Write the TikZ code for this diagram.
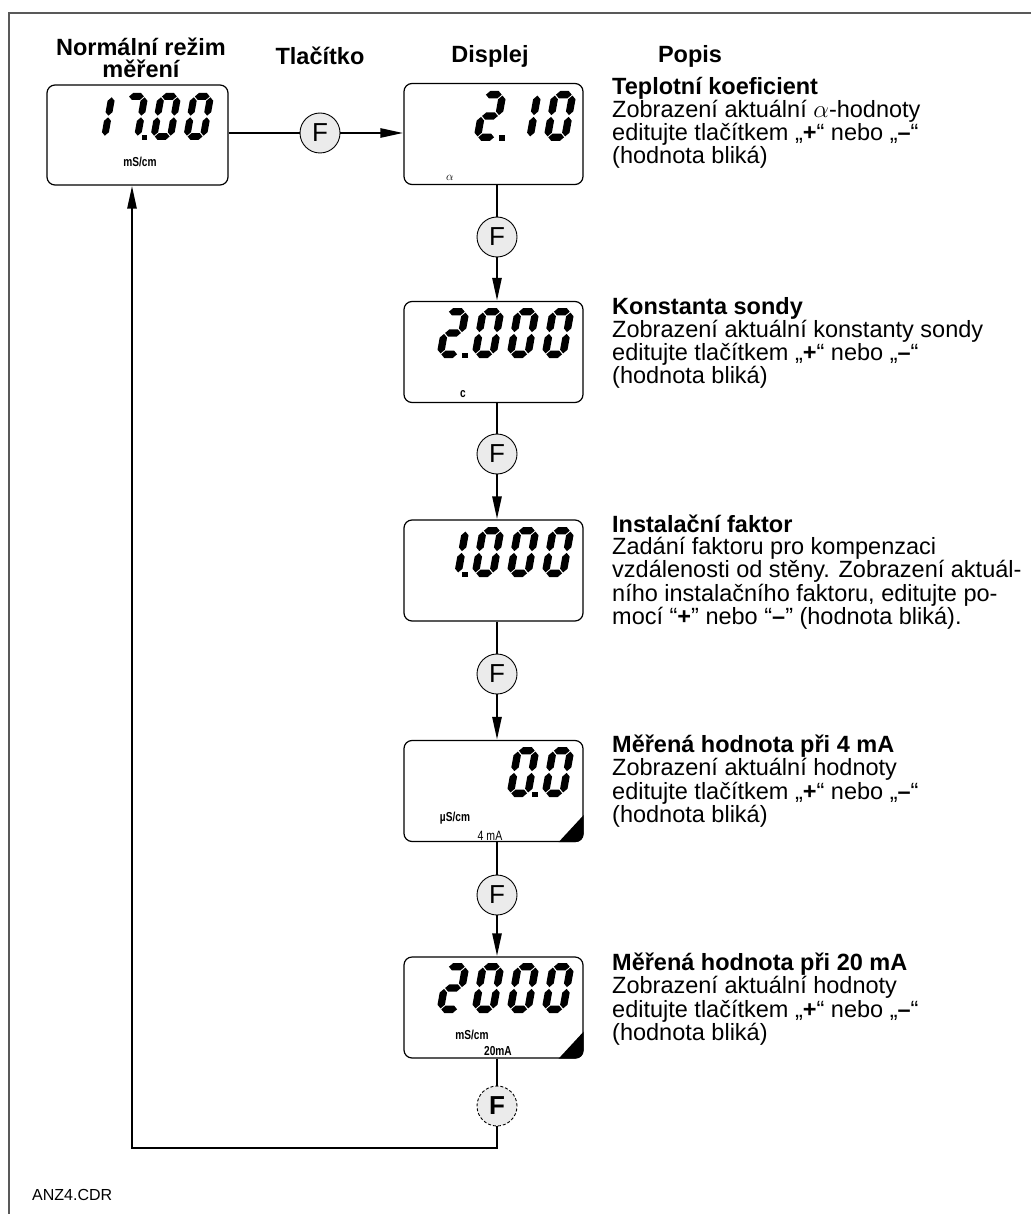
\documentclass[tikz,border=0pt]{standalone}
\usepackage{fontspec}
\setmainfont{Liberation Sans}
\newfontfamily\narrowfont[FakeStretch=0.78]{Liberation Sans}
\usetikzlibrary{arrows.meta}

% seven-segment geometry (local units, origin at bottom left of a digit slot)
\def\sW{25}
\def\sH{50}
\def\sT{7.4}
\def\sG{0.9}
% horizontal bar between the vertical bar axes, centred at height #2
\newcommand\hseg[2]{\fill ({#1+\sT/2+\sG},{#2}) -- ({#1+\sT+\sG},{#2+\sT/2}) -- ({#1+\sW-\sT-\sG},{#2+\sT/2}) -- ({#1+\sW-\sT/2-\sG},{#2}) -- ({#1+\sW-\sT-\sG},{#2-\sT/2}) -- ({#1+\sT+\sG},{#2-\sT/2}) -- cycle;}
% vertical bar on axis #2 from height #3 to #4
\newcommand\vseg[4]{\fill ({#1+#2},{#3+\sG}) -- ({#1+#2+\sT/2},{#3+\sT/2+\sG}) -- ({#1+#2+\sT/2},{#4-\sT/2-\sG}) -- ({#1+#2},{#4-\sG}) -- ({#1+#2-\sT/2},{#4-\sT/2-\sG}) -- ({#1+#2-\sT/2},{#3+\sT/2+\sG}) -- cycle;}
\newcommand\segA[1]{\hseg{#1}{\sH-\sT/2}}
\newcommand\segG[1]{\hseg{#1}{\sH/2}}
\newcommand\segD[1]{\hseg{#1}{\sT/2}}
\newcommand\segF[1]{\vseg{#1}{\sT/2}{\sH/2}{\sH-\sT/2}}
\newcommand\segB[1]{\vseg{#1}{\sW-\sT/2}{\sH/2}{\sH-\sT/2}}
\newcommand\segE[1]{\vseg{#1}{\sT/2}{\sT/2}{\sH/2}}
\newcommand\segC[1]{\vseg{#1}{\sW-\sT/2}{\sT/2}{\sH/2}}
\newcommand\Dzero[1]{\segA{#1}\segB{#1}\segC{#1}\segD{#1}\segE{#1}\segF{#1}}
\newcommand\Done[1]{\segB{#1}\segC{#1}}
\newcommand\Dtwo[1]{\segA{#1}\segB{#1}\segG{#1}\segE{#1}\segD{#1}}
\newcommand\Dseven[1]{\segA{#1}\segB{#1}\segC{#1}}
\newcommand\Ddot[1]{\fill ({#1+\sW+1.2},0) rectangle ({#1+\sW+6.2},5.5);}
% #1 bottom left of first slot, #2 scale, #3 digits
\newcommand\lcd[3]{\begin{scope}[shift={#1},x={({#2*1pt},0pt)},y={({0.18*#2*1pt},{#2*1pt})}]#3\end{scope}}

\tikzset{
  hdr/.style={font=\bfseries\fontsize{23.5}{22}\selectfont, inner sep=0pt, align=center},
  desc/.style={font=\fontsize{23.5}{22}\selectfont, inner sep=0pt, align=left, anchor=north west},
  lcdbox/.style={draw, line width=1.2pt, rounded corners=8pt, minimum width=179pt, minimum height=101pt, inner sep=0pt},
  fkey/.style={circle, draw, line width=0.9pt, fill=black!8, minimum size=40pt, inner sep=0pt, font=\fontsize{26}{26}\selectfont},
  conn/.style={line width=2.6pt},
  arr/.style={conn, -{Triangle[length=23pt,width=9pt]}},
  unit/.style={font=\narrowfont\bfseries\fontsize{13}{13}\selectfont, inner sep=0pt},
}

\begin{document}
\begin{tikzpicture}[x=1pt,y=-1pt]
\useasboundingbox (0,0) rectangle (1031,1214);

% frame
\draw[black!65, line width=1.5pt] (9,1214) -- (9,13) -- (1031,13);

% column headings
\node[hdr] (hmode) at (141,58) {Normální režim\\měření};
\node[hdr] (hkey) at (320,56) {Tlačítko};
\node[hdr] (hdisp) at (490,56) {Displej};
\node[hdr] (hdesc) at (690,56) {Popis};

% displays
\node[lcdbox, minimum width=181pt, minimum height=100pt] (d1) at (137.5,135) {};
\node[lcdbox] (d2) at (493.5,134) {};
\node[lcdbox] (d3) at (493.5,352) {};
\node[lcdbox] (d4) at (493.5,570.5) {};
\node[lcdbox] (d5) at (493.5,791) {};
\node[lcdbox] (d6) at (493.5,1007.5) {};

% digits
\lcd{(84,140)}{0.94}{\Done{0}\Dseven{35}\Ddot{35}\Dzero{70}\Dzero{105}}
\lcd{(473,141)}{1}{\Dtwo{0}\Ddot{0}\Done{35}\Dzero{70}}
\lcd{(436,358)}{1}{\Dtwo{0}\Ddot{0}\Dzero{35}\Dzero{70}\Dzero{105}}
\lcd{(436,577)}{1}{\Done{0}\Ddot{0}\Dzero{35}\Dzero{70}\Dzero{105}}
\lcd{(506,797)}{1}{\Dzero{0}\Ddot{0}\Dzero{35}}
\lcd{(436,1013)}{1}{\Dtwo{0}\Dzero{35}\Dzero{70}\Dzero{105}}

% display annotations
\node[unit] (u1) at (140,162) {mS/cm};
\node[inner sep=0pt, font=\fontsize{12}{12}\selectfont] (u2) at (450,178) {$\alpha$};
\node[unit] (u3) at (463,394) {c};
\node[unit] (u5) at (455,818) {µS/cm};
\node[inner sep=0pt, font=\narrowfont\fontsize{13.5}{13.5}\selectfont] (u5b) at (490,836) {4 mA};
\node[unit] (u6) at (472,1035) {mS/cm};
\node[unit] (u6b) at (498,1051) {20mA};

% corner markers of the output displays
\begin{scope}
  \clip[rounded corners=8pt] (d5.south west) rectangle (d5.north east);
  \fill (d5.south east) ++(-25,0) -- ++(25,-27) -- (d5.south east) -- cycle;
\end{scope}
\begin{scope}
  \clip[rounded corners=8pt] (d6.south west) rectangle (d6.north east);
  \fill (d6.south east) ++(-25,0) -- ++(25,-27) -- (d6.south east) -- cycle;
\end{scope}

% F keys
\node[fkey] (f1) at (320,133) {F};
\node[fkey] (f2) at (497,237) {F};
\node[fkey] (f3) at (497,454) {F};
\node[fkey] (f4) at (497,674) {F};
\node[fkey] (f5) at (497,895) {F};
\node[fkey, densely dashed, font=\bfseries\fontsize{26}{26}\selectfont] (f6) at (497,1106) {F};
\coordinate (ret) at (132,1148);

% connectors
\draw[conn] (d1.east |- f1) -- (f1);
\draw[arr] (f1) -- (f1 -| d2.west);
\draw[conn] (f2 |- d2.south) -- (f2);
\draw[arr] (f2) -- (f2 |- d3.north);
\draw[conn] (f3 |- d3.south) -- (f3);
\draw[arr] (f3) -- (f3 |- d4.north);
\draw[conn] (f4 |- d4.south) -- (f4);
\draw[arr] (f4) -- (f4 |- d5.north);
\draw[conn] (f5 |- d5.south) -- (f5);
\draw[arr] (f5) -- (f5 |- d6.north);
\draw[conn] (f6 |- d6.south) -- (f6);
\draw[arr] (f6.south) -- (f6.south |- ret) -- (ret) -- (ret |- d1.south);

% descriptions
\node[desc] (t1) at (612,77) {\textbf{Teplotní koeficient}\\Zobrazení aktuální $\alpha$-hodnoty\\editujte tlačítkem „\textbf{+}“ nebo „\textbf{–}“\\(hodnota bliká)};
\node[desc] (t2) at (612,297) {\textbf{Konstanta sondy}\\Zobrazení aktuální konstanty sondy\\editujte tlačítkem „\textbf{+}“ nebo „\textbf{–}“\\(hodnota bliká)};
\node[desc] (t3) at (612,515) {\textbf{Instalační faktor}\\Zadání faktoru pro kompenzaci\\vzdálenosti od stěny. Zobrazení aktuál-\\ního instalačního faktoru, editujte po-\\mocí “\textbf{+}” nebo “\textbf{–}” (hodnota bliká).};
\node[desc] (t4) at (612,735) {\textbf{Měřená hodnota při 4 mA}\\Zobrazení aktuální hodnoty\\editujte tlačítkem „\textbf{+}“ nebo „\textbf{–}“\\(hodnota bliká)};
\node[desc] (t5) at (612,953) {\textbf{Měřená hodnota při 20 mA}\\Zobrazení aktuální hodnoty\\editujte tlačítkem „\textbf{+}“ nebo „\textbf{–}“\\(hodnota bliká)};

% file tag
\node[anchor=base west, inner sep=0pt, font=\fontsize{16}{16}\selectfont] (tag) at (32,1200) {ANZ4.CDR};
\end{tikzpicture}
\end{document}
